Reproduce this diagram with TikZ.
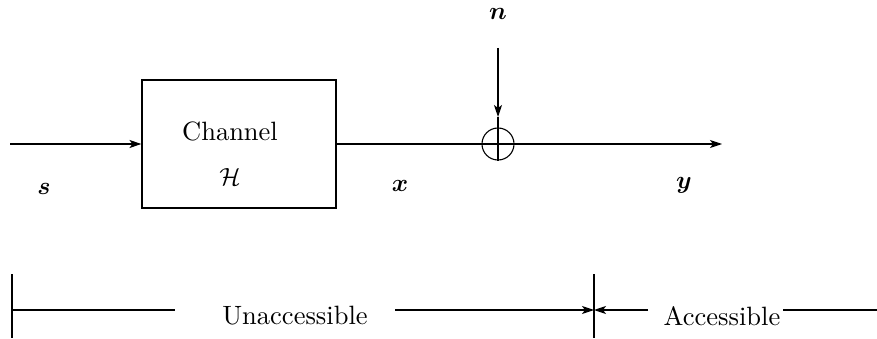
\documentclass[tikz,border=0pt]{standalone}
\usepackage{amsmath,amssymb,bm}
\usepackage{fontspec}
\newfontfamily\lmten{lmroman10-regular}[Extension=.otf]
\usetikzlibrary{arrows.meta}
\begin{document}
\begin{tikzpicture}[x=1pt,y=-1pt,
  line width=1.1pt,
  tip/.style={-{Stealth[length=12pt,width=8pt,inset=3pt]}},
  lbl/.style={inner sep=0pt,font=\lmten\fontsize{26.5}{31}\selectfont},
  chanbox/.style={draw,minimum width=194pt,minimum height=128pt,inner sep=0pt},
  sumnode/.style={draw,circle,minimum size=32pt,inner sep=0pt}]
\useasboundingbox (0,0) rectangle (877,339);
% top row
\coordinate (sin) at (10,144);
\node[chanbox] (ch) at (239,144) {};
\node[lbl] (chtext) at (230,131) {Channel};
\node[lbl] (htext) at (230,177) {$\mathcal{H}$};
\node[sumnode] (sum) at (498,144) {};
\coordinate (yout) at (722,144);
\node[lbl] (nlab) at (498,14) {$\bm{n}$};
\coordinate (ntop) at (498,48);
\coordinate (ntip) at (498,117);
\node[lbl] (slab) at (44,189) {$\bm{s}$};
\node[lbl] (xlab) at (400,186) {$\bm{x}$};
\node[lbl] (ylab) at (684,185) {$\bm{y}$};
\draw[tip] (sin) -- (ch.west);
\draw (ch.east) -- (sum.west);
\draw[tip] (sum.west) -- (yout);
\draw[tip] (ntop) -- (ntip);
\draw (ntip) -- (sum.south);
% bottom row
\coordinate (b1t) at (12,274);
\coordinate (b1b) at (12,338);
\coordinate (b2t) at (594,274);
\coordinate (b2b) at (594,338);
\coordinate (l1s) at (12,310);
\coordinate (l1e) at (175,310);
\node[lbl] (unacc) at (295,316) {Unaccessible};
\coordinate (a1s) at (395,310);
\coordinate (a1e) at (594,310);
\coordinate (a2s) at (648,310);
\node[lbl] (acc) at (722,316) {Accessible};
\coordinate (l2s) at (783,310);
\coordinate (l2e) at (877,310);
\draw (b1t) -- (b1b);
\draw (b2t) -- (b2b);
\draw (l1s) -- (l1e);
\draw[tip] (a1s) -- (a1e);
\draw[tip] (a2s) -- (a1e);
\draw (l2s) -- (l2e);
\end{tikzpicture}
\end{document}
